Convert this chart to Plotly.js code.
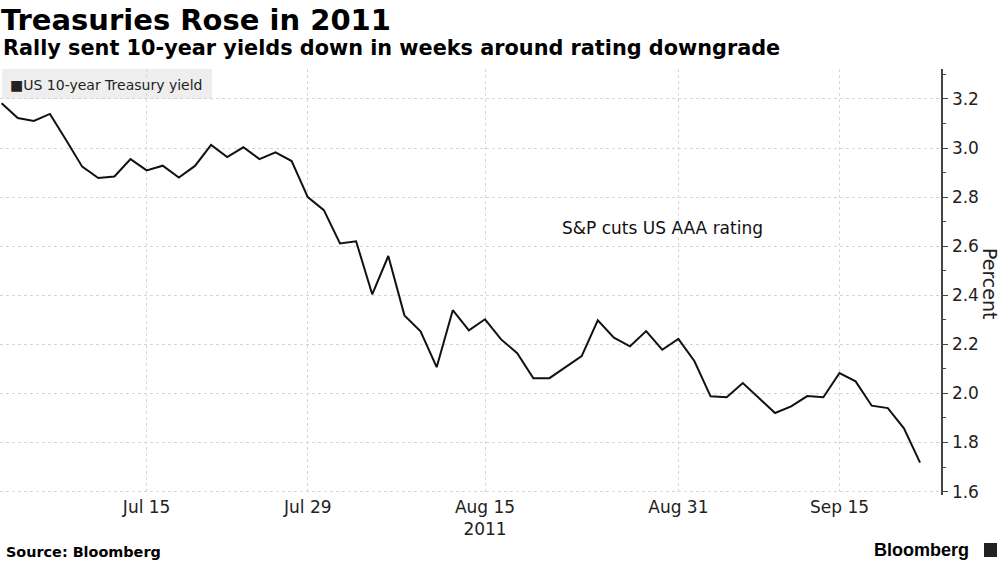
<!DOCTYPE html>
<html>
<head>
<meta charset="utf-8">
<script src="https://cdn.plot.ly/plotly-3.0.1.min.js"></script>
<style>html,body{margin:0;padding:0;background:#fff;}#chart{width:1003px;height:564px;}</style>
</head>
<body>
<div id="chart"></div>
<script>
const dates = [
  "2011-07-01","2011-07-05","2011-07-06","2011-07-07","2011-07-08",
  "2011-07-11","2011-07-12","2011-07-13","2011-07-14","2011-07-15",
  "2011-07-18","2011-07-19","2011-07-20","2011-07-21","2011-07-22",
  "2011-07-25","2011-07-26","2011-07-27","2011-07-28","2011-07-29",
  "2011-08-01","2011-08-02","2011-08-03","2011-08-04","2011-08-05",
  "2011-08-08","2011-08-09","2011-08-10","2011-08-11","2011-08-12",
  "2011-08-15","2011-08-16","2011-08-17","2011-08-18","2011-08-19",
  "2011-08-22","2011-08-23","2011-08-24","2011-08-25","2011-08-26",
  "2011-08-29","2011-08-30","2011-08-31","2011-09-01","2011-09-02",
  "2011-09-06","2011-09-07","2011-09-08","2011-09-09",
  "2011-09-12","2011-09-13","2011-09-14","2011-09-15","2011-09-16",
  "2011-09-19","2011-09-20","2011-09-21","2011-09-22"
];
const yields = [
  3.182, 3.122, 3.110, 3.139, 3.033,
  2.924, 2.878, 2.884, 2.955, 2.909,
  2.928, 2.880, 2.927, 3.013, 2.963,
  3.003, 2.955, 2.982, 2.947, 2.800,
  2.747, 2.611, 2.620, 2.404, 2.560,
  2.318, 2.253, 2.107, 2.339, 2.257,
  2.302, 2.220, 2.164, 2.062, 2.062,
  2.107, 2.152, 2.298, 2.227, 2.192,
  2.254, 2.178, 2.222, 2.131, 1.988,
  1.984, 2.042, 1.981, 1.920,
  1.947, 1.989, 1.984, 2.083, 2.049,
  1.950, 1.940, 1.858, 1.718
];
const holidays = ["2011-07-04", "2011-09-05"];
const tickDates = ["2011-07-15","2011-07-29","2011-08-15","2011-08-31","2011-09-15"];
const tickLabels = ["Jul 15","Jul 29","Aug 15<br>2011","Aug 31","Sep 15"];
const seriesName = "US 10-year Treasury yield";
const eventLabel = "S&P cuts US AAA rating";
const eventDate = "2011-08-30";
const eventY = 2.674;

const FONT = "DejaVu Sans, Verdana, sans-serif";
const trace = {
  x: dates, y: yields, type: "scatter", mode: "lines",
  name: seriesName,
  line: {color: "#111111", width: 2},
  showlegend: false, hoverinfo: "x+y"
};

// plot area in pixels: left 0, right 941, top 69, bottom 495
const layout = {
  width: 1003, height: 564,
  margin: {l: 0, r: 62, t: 69, b: 69, pad: 0},
  paper_bgcolor: "#ffffff", plot_bgcolor: "#ffffff",
  font: {family: FONT, color: "#222222", size: 17},
  title: {
    text: "<b>Treasuries Rose in 2011</b>",
    font: {family: FONT, size: 29, color: "#000000"},
    x: 0.001, xanchor: "left", xref: "paper",
    y: 1 - 20/564, yanchor: "middle", yref: "container"
  },
  xaxis: {
    type: "date",
    range: ["2011-06-30 21:36", "2011-09-23 07:12"],
    rangebreaks: [{bounds: ["sat", "mon"]}, {values: holidays}],
    tickmode: "array", tickvals: tickDates, ticktext: tickLabels,
    showgrid: true, gridcolor: "#d6d6d6", griddash: "dot", gridwidth: 1,
    showline: false, zeroline: false, ticks: "",
    tickfont: {family: FONT, size: 17, color: "#222222"},
    fixedrange: true
  },
  yaxis: {
    side: "right",
    range: [1.586, 3.322],
    dtick: 0.2, tick0: 1.6, tickformat: ".1f",
    showgrid: true, gridcolor: "#d6d6d6", griddash: "dot", gridwidth: 1,
    zeroline: false,
    showline: true, linecolor: "#444444", linewidth: 1.5,
    ticks: "outside", ticklen: 5, tickcolor: "#444444", tickwidth: 1,
    minor: {dtick: 0.1, tick0: 1.6, ticks: "outside", ticklen: 3, tickcolor: "#444444", showgrid: false},
    tickfont: {family: FONT, size: 17, color: "#222222"},
    ticklabelstandoff: 1,
    fixedrange: true
  },
  shapes: [
    {type: "rect", xref: "paper", yref: "paper",
     x0: 2/941, x1: 212/941, y0: (495-99)/426, y1: (495-69)/426,
     fillcolor: "#eeeeee", line: {width: 0}, layer: "below"},
    {type: "rect", xref: "paper", yref: "paper",
     x0: 984/941, x1: 997/941, y0: (495-557)/426, y1: (495-543)/426,
     fillcolor: "#222222", line: {width: 0}}
  ],
  annotations: [
    {text: "<b>Rally sent 10-year yields down in weeks around rating downgrade</b>",
     xref: "paper", yref: "paper", x: 0.001, y: (495-48)/426,
     xanchor: "left", yanchor: "middle", showarrow: false,
     font: {family: FONT, size: 20.8, color: "#000000"}},
    {text: "\u25A0" + seriesName,
     xref: "paper", yref: "paper", x: 8/941, y: (495-85)/426,
     xanchor: "left", yanchor: "middle", showarrow: false,
     font: {family: FONT, size: 14, color: "#222222"}},
    {text: eventLabel, x: eventDate, y: eventY, xref: "x", yref: "y",
     xanchor: "center", yanchor: "middle", showarrow: false,
     font: {family: FONT, size: 17, color: "#111111"}},
    {text: "Percent", xref: "paper", yref: "paper",
     x: 990/941, y: (495-284)/426, xanchor: "center", yanchor: "middle",
     textangle: 90, showarrow: false,
     font: {family: FONT, size: 19, color: "#222222"}},
    {text: "<b>Source: Bloomberg</b>", xref: "paper", yref: "paper",
     x: 4/941, y: (495-552)/426, xanchor: "left", yanchor: "middle",
     showarrow: false, font: {family: FONT, size: 14.4, color: "#000000"}},
    {text: "<b>Bloomberg</b>", xref: "paper", yref: "paper",
     x: 971/941, y: (495-550)/426, xanchor: "right", yanchor: "middle",
     showarrow: false, font: {family: "Liberation Sans, Arial, sans-serif", size: 18, color: "#000000"}}
  ]
};

Plotly.newPlot("chart", [trace], layout, {displayModeBar: false, staticPlot: true});
</script>
</body>
</html>
